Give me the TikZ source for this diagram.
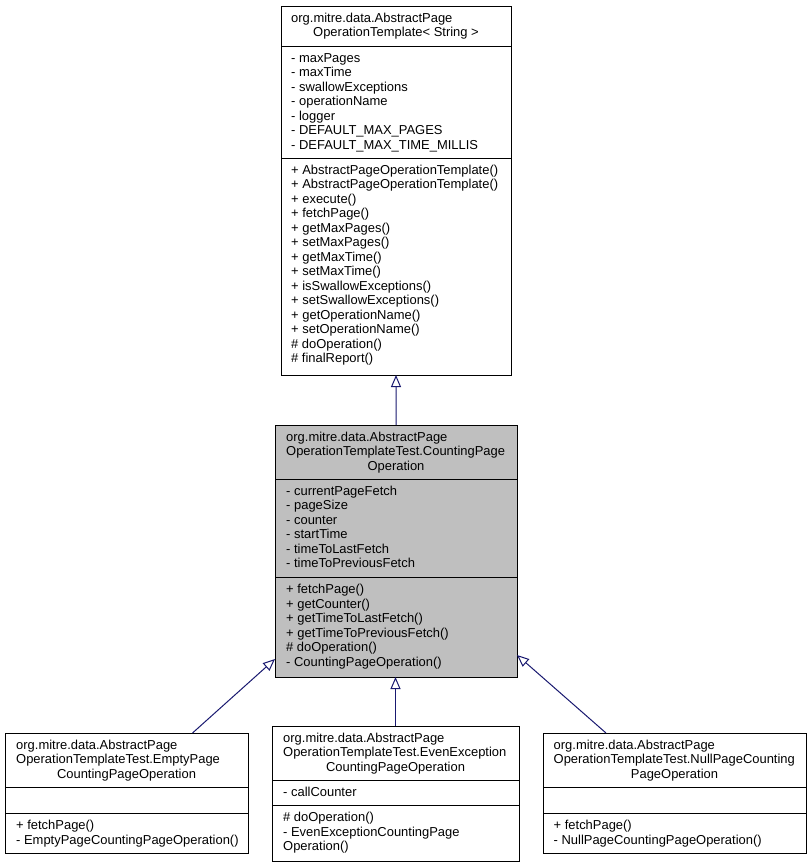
\documentclass[tikz,border=0pt]{standalone}
\usepackage{fontspec}
\setmainfont{Liberation Sans}
\usetikzlibrary{arrows.meta}
\definecolor{edgeblue}{HTML}{191970}
\definecolor{boxgray}{HTML}{BFBFBF}
\newcommand{\umlfont}{\fontsize{12.95bp}{14.5bp}\selectfont}
\newcommand{\linesL}[1]{\begin{tabular}[t]{@{}l@{}}#1\end{tabular}}
\tikzset{
  umlbox/.style={draw=black, line width=1bp, anchor=north west, inner sep=0pt, outer sep=0pt},
  sepline/.style={draw=black, line width=1bp},
  txtl/.style={anchor=base west, inner sep=0pt, font=\umlfont},
  txtc/.style={anchor=base, inner sep=0pt, font=\umlfont},
  inh/.style={draw=edgeblue, line width=1bp, -{Triangle[open, length=12bp, width=10bp]}}
}
\begin{document}
\begin{tikzpicture}[x=1bp, y=-1bp]
\useasboundingbox (0,0) rectangle (811,867);
\fill[white] (0,0) rectangle (811,867);

% ---------- Box A (top) ----------
\node[umlbox, fill=white, minimum width=230bp, minimum height=369bp] (A) at (281,6) {};
\draw[sepline] (A.west |- 0,46) -- (A.east |- 0,46);
\draw[sepline] (A.west |- 0,158) -- (A.east |- 0,158);
\node[txtl] (Atitle) at (291,22.2) {org.mitre.data.AbstractPage};
\node[txtc] (Atitle2) at (396,36.7) {OperationTemplate< String >};
\node[txtl] (Aattr) at (291,62.2) {\linesL{- maxPages\\- maxTime\\- swallowExceptions\\- operationName\\- logger\\- DEFAULT\_MAX\_PAGES\\- DEFAULT\_MAX\_TIME\_MILLIS}};
\node[txtl] (Ameth) at (291,174.2) {\linesL{+ AbstractPageOperationTemplate()\\+ AbstractPageOperationTemplate()\\+ execute()\\+ fetchPage()\\+ getMaxPages()\\+ setMaxPages()\\+ getMaxTime()\\+ setMaxTime()\\+ isSwallowExceptions()\\+ setSwallowExceptions()\\+ getOperationName()\\+ setOperationName()\\\# doOperation()\\\# finalReport()}};

% ---------- Box B (middle, gray) ----------
\node[umlbox, fill=boxgray, minimum width=242bp, minimum height=252bp] (B) at (275,425) {};
\draw[sepline] (B.west |- 0,479) -- (B.east |- 0,479);
\draw[sepline] (B.west |- 0,577.5) -- (B.east |- 0,577.5);
\node[txtl] (Btitle) at (286,441.2) {\linesL{org.mitre.data.AbstractPage\\OperationTemplateTest.CountingPage}};
\node[txtc] (Btitle3) at (396,470.2) {Operation};
\node[txtl] (Battr) at (286,495.2) {\linesL{- currentPageFetch\\- pageSize\\- counter\\- startTime\\- timeToLastFetch\\- timeToPreviousFetch}};
\node[txtl] (Bmeth) at (286,593.7) {\linesL{+ fetchPage()\\+ getCounter()\\+ getTimeToLastFetch()\\+ getTimeToPreviousFetch()\\\# doOperation()\\- CountingPageOperation()}};

% ---------- Box C (bottom left) ----------
\node[umlbox, fill=white, minimum width=243bp, minimum height=120bp] (C) at (5,733) {};
\draw[sepline] (C.west |- 0,787.5) -- (C.east |- 0,787.5);
\draw[sepline] (C.west |- 0,813.3) -- (C.east |- 0,813.3);
\node[txtl] (Ctitle) at (16,749.2) {\linesL{org.mitre.data.AbstractPage\\OperationTemplateTest.EmptyPage}};
\node[txtc] (Ctitle3) at (126.5,778.2) {CountingPageOperation};
\node[txtl] (Cmeth) at (16,829.5) {\linesL{+ fetchPage()\\- EmptyPageCountingPageOperation()}};

% ---------- Box D (bottom middle) ----------
\node[umlbox, fill=white, minimum width=247bp, minimum height=135bp] (D) at (272,726) {};
\draw[sepline] (D.west |- 0,780.7) -- (D.east |- 0,780.7);
\draw[sepline] (D.west |- 0,805.5) -- (D.east |- 0,805.5);
\node[txtl] (Dtitle) at (283,742.2) {\linesL{org.mitre.data.AbstractPage\\OperationTemplateTest.EvenException}};
\node[txtc] (Dtitle3) at (395.5,771.2) {CountingPageOperation};
\node[txtl] (Dattr) at (283,796.9) {\linesL{- callCounter}};
\node[txtl] (Dmeth) at (283,821.7) {\linesL{\# doOperation()\\- EvenExceptionCountingPage\\Operation()}};

% ---------- Box E (bottom right) ----------
\node[umlbox, fill=white, minimum width=263bp, minimum height=120bp] (E) at (543,733) {};
\draw[sepline] (E.west |- 0,787.5) -- (E.east |- 0,787.5);
\draw[sepline] (E.west |- 0,813.3) -- (E.east |- 0,813.3);
\node[txtl] (Etitle) at (553.5,749.2) {\linesL{org.mitre.data.AbstractPage\\OperationTemplateTest.NullPageCounting}};
\node[txtc] (Etitle3) at (674.5,778.2) {PageOperation};
\node[txtl] (Emeth) at (553.5,829.5) {\linesL{+ fetchPage()\\- NullPageCountingPageOperation()}};

% ---------- Inheritance connectors ----------
\draw[inh] (B.north) -- (A.south);
\draw[inh] ([xshift=66bp]C.north) -- ([yshift=-108bp]B.west);
\draw[inh] (D.north) -- (D.north |- B.south);
\draw[inh] ([xshift=-68.5bp]E.north) -- ([yshift=-104bp]B.east);
\end{tikzpicture}
\end{document}
